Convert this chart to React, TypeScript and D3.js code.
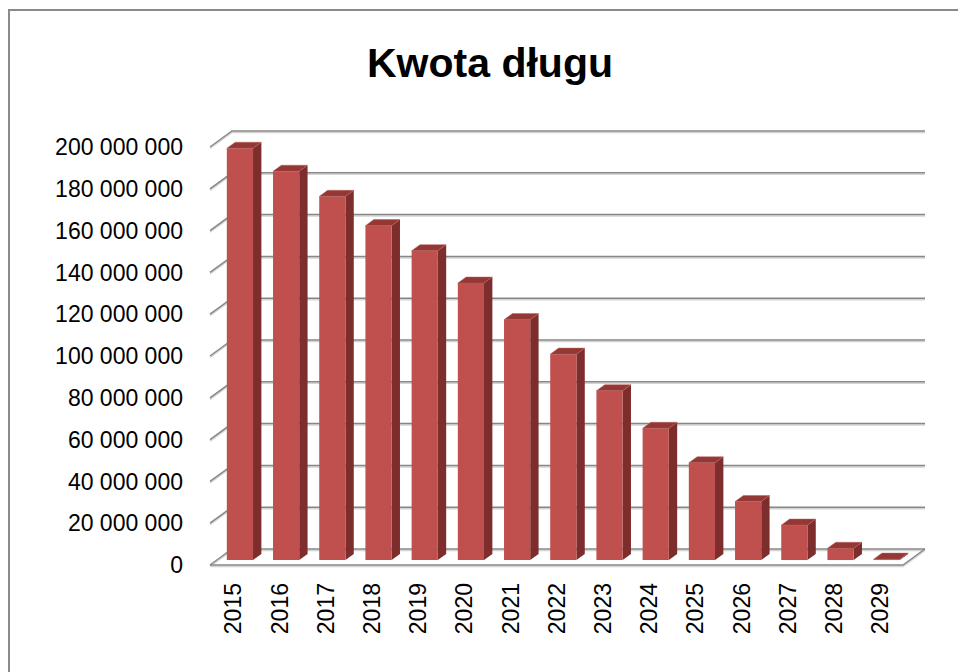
import React from 'react';
import * as d3 from 'd3';

const years = ['2015', '2016', '2017', '2018', '2019', '2020', '2021', '2022', '2023', '2024', '2025', '2026', '2027', '2028', '2029'];
const debt = [197000000, 186000000, 174000000, 160000000, 148000000, 132500000, 115000000, 98500000, 81000000, 63000000, 46500000, 28000000, 16700000, 5600000, 400000];
const yTicks = [0, 20000000, 40000000, 60000000, 80000000, 100000000, 120000000, 140000000, 160000000, 180000000, 200000000];

const W = 958;
const H = 672;
// depth of the 3D box (back wall offset)
const DX = 22;
const DY = -16;
// bar sits between these depth fractions
const F0 = 0.31;
const F1 = 0.69;

const font = '"Liberation Sans", Arial, sans-serif';

const fmt = (v: number) => d3.format(',')(v).replace(/,/g, ' ');

const App = () => {
  const x = d3.scaleBand<string>().domain(years).range([210, 903]).paddingInner(0.433).paddingOuter(0.2165);
  const y = d3.scaleLinear().domain([0, 200000000]).range([565, 147]);

  const p = (px: number, py: number, f: number) => `${px + DX * f},${py + DY * f}`;
  const x0 = 210;
  const x1 = 903;
  const base = y(0);

  return (
    <svg width={W} height={H} style={{ position: 'absolute', left: 0, top: 0 }}>
      <rect x={0} y={0} width={W} height={H} fill="#fff" />
      <rect x={9} y={10} width={1200} height={1000} fill="none" stroke="#8a8a8a" strokeWidth={2} />

      <text x={490} y={77} textAnchor="middle" fontFamily={font} fontWeight="bold" fontSize={41} fill="#000">
        Kwota długu
      </text>

      {/* gridlines on back wall and side wall */}
      {yTicks.map((t) => {
        const yy = y(t);
        return (
          <g key={t}>
            <polyline points={`${p(x0, yy, 0)} ${p(x0, yy, 1)} ${p(x1, yy, 1)}`} fill="none" stroke="#d4d4d4" strokeWidth={1.5} transform="translate(0,1.5)" />
            <polyline points={`${p(x0, yy, 0)} ${p(x0, yy, 1)} ${p(x1, yy, 1)}`} fill="none" stroke="#878787" strokeWidth={1.5} />
          </g>
        );
      })}
      {/* floor front edges */}
      <polyline points={`${p(x0, base, 0)} ${p(x1, base, 0)} ${p(x1, base, 1)}`} fill="none" stroke="#d4d4d4" strokeWidth={1.5} transform="translate(0,1.5)" />
      <polyline points={`${p(x0, base, 0)} ${p(x1, base, 0)} ${p(x1, base, 1)}`} fill="none" stroke="#878787" strokeWidth={1.5} />

      {/* bars */}
      {years.map((yr, i) => {
        const bx = x(yr) as number;
        const bw = x.bandwidth();
        const top = y(debt[i]);
        const front = `${p(bx, top, F0)} ${p(bx + bw, top, F0)} ${p(bx + bw, base, F0)} ${p(bx, base, F0)}`;
        const side = `${p(bx + bw, top, F0)} ${p(bx + bw, top, F1)} ${p(bx + bw, base, F1)} ${p(bx + bw, base, F0)}`;
        const lid = `${p(bx, top, F0)} ${p(bx + bw, top, F0)} ${p(bx + bw, top, F1)} ${p(bx, top, F1)}`;
        return (
          <g key={yr}>
            <polygon points={side} fill="#7d2e2c" />
            <polygon points={front} fill="#c0504d" />
            <polygon points={lid} fill="#953735" stroke="#b8605d" strokeWidth={0.5} />
          </g>
        );
      })}

      {/* y axis labels */}
      {yTicks.map((t) => (
        <text key={t} x={183} y={y(t)} dy="0.36em" textAnchor="end" fontFamily={font} fontSize={23} fill="#000">
          {fmt(t)}
        </text>
      ))}

      {/* x axis labels */}
      {years.map((yr) => (
        <text
          key={yr}
          transform={`translate(${(x(yr) as number) + x.bandwidth() / 2},583) rotate(-90)`}
          dy="0.36em"
          textAnchor="end"
          fontFamily={font}
          fontSize={23}
          fill="#000"
        >
          {yr}
        </text>
      ))}
    </svg>
  );
};

export default App;
